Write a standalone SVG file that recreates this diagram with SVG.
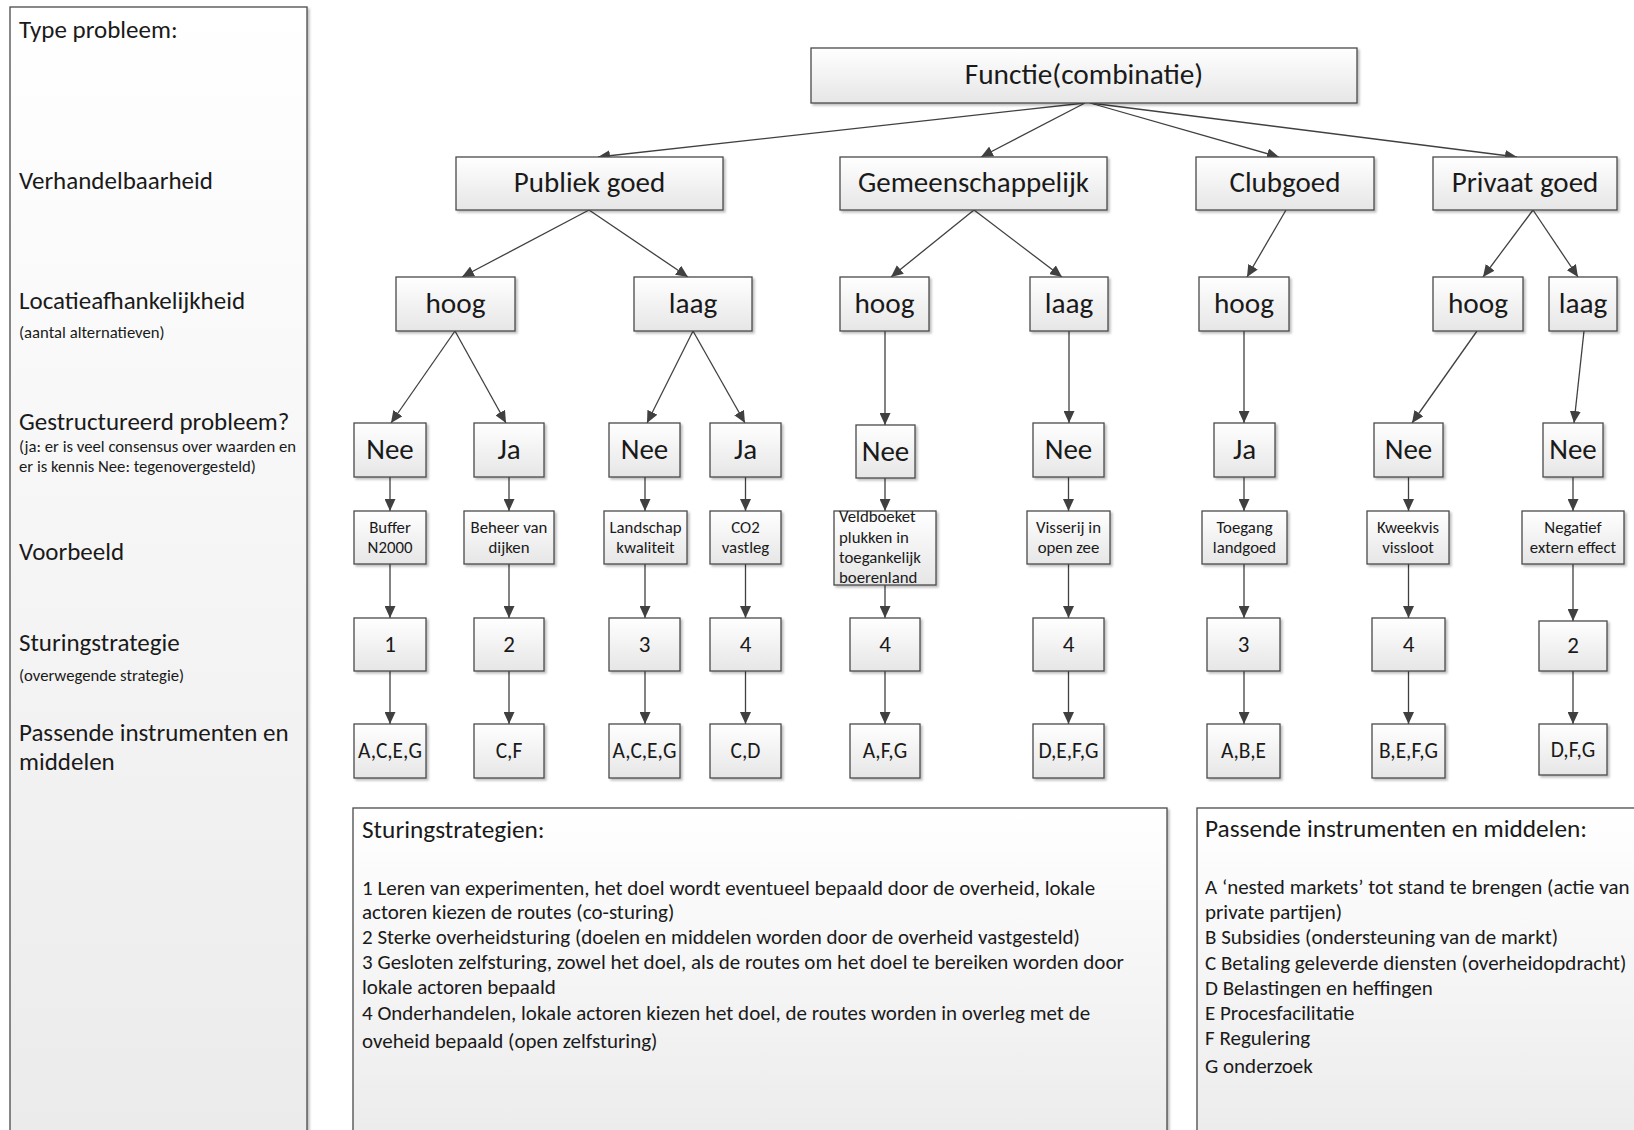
<svg xmlns="http://www.w3.org/2000/svg" width="1634" height="1130" viewBox="0 0 1634 1130">
<defs>
<linearGradient id="g" x1="0" y1="0" x2="0" y2="1"><stop offset="0" stop-color="#ffffff"/><stop offset="1" stop-color="#e6e6e6"/></linearGradient>
<linearGradient id="gp" x1="0" y1="0" x2="0" y2="1"><stop offset="0" stop-color="#ffffff"/><stop offset="1" stop-color="#ebebeb"/></linearGradient>
<filter id="sh" x="-10%" y="-10%" width="130%" height="130%"><feDropShadow dx="2" dy="2" stdDeviation="1.2" flood-color="#000" flood-opacity="0.25"/></filter>
<marker id="ah" markerWidth="12" markerHeight="11" refX="12" refY="5.5" orient="auto" markerUnits="userSpaceOnUse"><path d="M0,0 L12,5.5 L0,11 z" fill="#404040"/></marker>
<style>
.box{fill:url(#g);stroke:#4a4a4a;stroke-width:1.3;filter:url(#sh)}
.pan{fill:url(#gp);stroke:#4a4a4a;stroke-width:1.3;filter:url(#sh)}
text{font-family:Carlito,Calibri,Lato,sans-serif;fill:#1a1a1a}
.c{text-anchor:middle}
.f27{font-size:29.3px}
.f26{font-size:29px}
.f21{font-size:23px}
.f19{font-size:21.4px}
.f15{font-size:16.8px}
.lb{font-size:25px}
.ls{font-size:16.7px}
.bt{font-size:25.3px}
.bb{font-size:21px}
.con line,.con path{stroke:#404040;stroke-width:1.3;fill:none;marker-end:url(#ah)}
</style>
</defs>
<rect width="1634" height="1130" fill="#ffffff"/>

<g id="left-panel">
<rect class="pan" x="10" y="7" width="297" height="1133"/>
<text class="lb" x="19" y="38">Type probleem:</text>
<text class="lb" x="19" y="189">Verhandelbaarheid</text>
<text class="lb" x="19" y="309">Locatieafhankelijkheid</text>
<text class="ls" x="19" y="338">(aantal alternatieven)</text>
<text class="lb" x="19" y="430">Gestructureerd probleem?</text>
<text class="ls" x="19" y="452">(ja: er is veel consensus over waarden en</text>
<text class="ls" x="19" y="472">er is kennis Nee: tegenovergesteld)</text>
<text class="lb" x="19" y="560">Voorbeeld</text>
<text class="lb" x="19" y="651">Sturingstrategie</text>
<text class="ls" x="19" y="681">(overwegende strategie)</text>
<text class="lb" x="19" y="741">Passende instrumenten en</text>
<text class="lb" x="19" y="770">middelen</text>
</g>

<g class="con" id="connectors">
<line x1="1085" y1="103" x2="598" y2="157"/>
<line x1="1085" y1="103" x2="981" y2="157"/>
<line x1="1090" y1="103" x2="1279" y2="157"/>
<line x1="1090" y1="103" x2="1517" y2="157"/>
<line x1="589" y1="210" x2="462" y2="277"/>
<line x1="589" y1="210" x2="688" y2="277"/>
<line x1="974" y1="210" x2="891" y2="277"/>
<line x1="974" y1="210" x2="1062" y2="277"/>
<line x1="1286" y1="210" x2="1247" y2="277"/>
<line x1="1533" y1="210" x2="1483" y2="277"/>
<line x1="1533" y1="210" x2="1578" y2="277"/>
<line x1="455" y1="331" x2="391" y2="423"/>
<line x1="455" y1="331" x2="506" y2="423"/>
<line x1="693" y1="331" x2="647" y2="423"/>
<line x1="693" y1="331" x2="745" y2="423"/>
<line x1="885" y1="331" x2="885" y2="425"/>
<line x1="1069" y1="331" x2="1069" y2="423"/>
<line x1="1244" y1="331" x2="1244" y2="423"/>
<line x1="1477" y1="331" x2="1412" y2="423"/>
<line x1="1584" y1="331" x2="1574" y2="423"/>
<line x1="390" y1="477" x2="390" y2="511"/>
<line x1="509" y1="477" x2="509" y2="511"/>
<line x1="645" y1="477" x2="645" y2="511"/>
<line x1="745.5" y1="477" x2="745.5" y2="511"/>
<line x1="885" y1="478" x2="885" y2="511"/>
<line x1="1068.5" y1="477" x2="1068.5" y2="511"/>
<line x1="1244" y1="477" x2="1244" y2="511"/>
<line x1="1408.5" y1="477" x2="1408.5" y2="511"/>
<line x1="1573" y1="477" x2="1573" y2="511"/>
<line x1="390" y1="564" x2="390" y2="618"/>
<line x1="509" y1="564" x2="509" y2="618"/>
<line x1="645" y1="564" x2="645" y2="618"/>
<line x1="745.5" y1="564" x2="745.5" y2="618"/>
<line x1="885" y1="585" x2="885" y2="618"/>
<line x1="1068.5" y1="564" x2="1068.5" y2="618"/>
<line x1="1244" y1="564" x2="1244" y2="618"/>
<line x1="1408.5" y1="564" x2="1408.5" y2="618"/>
<line x1="1573" y1="564" x2="1573" y2="621"/>
<line x1="390" y1="671" x2="390" y2="724"/>
<line x1="509" y1="671" x2="509" y2="724"/>
<line x1="645" y1="671" x2="645" y2="724"/>
<line x1="745.5" y1="671" x2="745.5" y2="724"/>
<line x1="885" y1="671" x2="885" y2="724"/>
<line x1="1068.5" y1="671" x2="1068.5" y2="724"/>
<line x1="1244" y1="671" x2="1244" y2="724"/>
<line x1="1408.5" y1="671" x2="1408.5" y2="724"/>
<line x1="1573" y1="671" x2="1573" y2="724"/>
</g>

<g id="n-functie"><rect class="box" x="811" y="48" width="546" height="55"/><text class="c f27" x="1084" y="84">Functie(combinatie)</text></g>

<g id="n-publiek"><rect class="box" x="456" y="157" width="267" height="53"/><text class="c f26" x="589.5" y="192">Publiek goed</text></g>
<g id="n-gemeensch"><rect class="box" x="840" y="157" width="267" height="53"/><text class="c f26" x="973.5" y="192">Gemeenschappelijk</text></g>
<g id="n-club"><rect class="box" x="1196" y="157" width="178" height="53"/><text class="c f26" x="1285" y="192">Clubgoed</text></g>
<g id="n-privaat"><rect class="box" x="1433" y="157" width="184" height="53"/><text class="c f26" x="1525" y="192">Privaat goed</text></g>

<g id="n-hoog1"><rect class="box" x="396" y="277" width="119" height="54"/><text class="c f27" x="455.5" y="313">hoog</text></g>
<g id="n-laag1"><rect class="box" x="634" y="277" width="118" height="54"/><text class="c f27" x="693" y="313">laag</text></g>
<g id="n-hoog2"><rect class="box" x="840" y="277" width="89" height="54"/><text class="c f27" x="884.5" y="313">hoog</text></g>
<g id="n-laag2"><rect class="box" x="1030" y="277" width="78" height="54"/><text class="c f27" x="1069" y="313">laag</text></g>
<g id="n-hoog3"><rect class="box" x="1199" y="277" width="90" height="54"/><text class="c f27" x="1244" y="313">hoog</text></g>
<g id="n-hoog4"><rect class="box" x="1433" y="277" width="90" height="54"/><text class="c f27" x="1478" y="313">hoog</text></g>
<g id="n-laag4"><rect class="box" x="1549" y="277" width="68" height="54"/><text class="c f27" x="1583" y="313">laag</text></g>

<g id="n-nee1"><rect class="box" x="354" y="423" width="72" height="54"/><text class="c f26" x="390" y="459">Nee</text></g>
<g id="n-ja1"><rect class="box" x="474" y="423" width="70" height="54"/><text class="c f26" x="509" y="459">Ja</text></g>
<g id="n-nee2"><rect class="box" x="609" y="423" width="71" height="54"/><text class="c f26" x="644.5" y="459">Nee</text></g>
<g id="n-ja2"><rect class="box" x="710" y="423" width="71" height="54"/><text class="c f26" x="745.5" y="459">Ja</text></g>
<g id="n-nee3"><rect class="box" x="856" y="425" width="59" height="53"/><text class="c f26" x="885.5" y="461">Nee</text></g>
<g id="n-nee4"><rect class="box" x="1033" y="423" width="71" height="54"/><text class="c f26" x="1068.5" y="459">Nee</text></g>
<g id="n-ja3"><rect class="box" x="1214" y="423" width="61" height="54"/><text class="c f26" x="1244.5" y="459">Ja</text></g>
<g id="n-nee5"><rect class="box" x="1374" y="423" width="69" height="54"/><text class="c f26" x="1408.5" y="459">Nee</text></g>
<g id="n-nee6"><rect class="box" x="1543" y="423" width="60" height="54"/><text class="c f26" x="1573" y="459">Nee</text></g>

<g id="n-ex1"><rect class="box" x="354" y="511" width="72" height="53"/><text class="c f15" x="390" y="533">Buffer</text><text class="c f15" x="390" y="553">N2000</text></g>
<g id="n-ex2"><rect class="box" x="464" y="511" width="90" height="53"/><text class="c f15" x="509" y="533">Beheer van</text><text class="c f15" x="509" y="553">dijken</text></g>
<g id="n-ex3"><rect class="box" x="604" y="511" width="83" height="53"/><text class="c f15" x="645.5" y="533">Landschap</text><text class="c f15" x="645.5" y="553">kwaliteit</text></g>
<g id="n-ex4"><rect class="box" x="710" y="511" width="71" height="53"/><text class="c f15" x="745.5" y="533">CO2</text><text class="c f15" x="745.5" y="553">vastleg</text></g>
<g id="n-ex5"><rect class="box" x="834" y="511" width="102" height="74"/><text class="f15" x="839" y="522">Veldboeket</text><text class="f15" x="839" y="542.5">plukken in</text><text class="f15" x="839" y="562.5">toegankelijk</text><text class="f15" x="839" y="582.5">boerenland</text></g>
<g id="n-ex6"><rect class="box" x="1027" y="511" width="83" height="53"/><text class="c f15" x="1068.5" y="533">Visserij in</text><text class="c f15" x="1068.5" y="553">open zee</text></g>
<g id="n-ex7"><rect class="box" x="1202" y="511" width="85" height="53"/><text class="c f15" x="1244.5" y="533">Toegang</text><text class="c f15" x="1244.5" y="553">landgoed</text></g>
<g id="n-ex8"><rect class="box" x="1367" y="511" width="82" height="53"/><text class="c f15" x="1408" y="533">Kweekvis</text><text class="c f15" x="1408" y="553">vissloot</text></g>
<g id="n-ex9"><rect class="box" x="1522" y="511" width="102" height="53"/><text class="c f15" x="1573" y="533">Negatief</text><text class="c f15" x="1573" y="553">extern effect</text></g>

<g id="n-s1"><rect class="box" x="354" y="618" width="72" height="53"/><text class="c f21" x="390" y="652">1</text></g>
<g id="n-s2"><rect class="box" x="474" y="618" width="70" height="53"/><text class="c f21" x="509" y="652">2</text></g>
<g id="n-s3"><rect class="box" x="609" y="618" width="71" height="53"/><text class="c f21" x="644.5" y="652">3</text></g>
<g id="n-s4"><rect class="box" x="710" y="618" width="71" height="53"/><text class="c f21" x="745.5" y="652">4</text></g>
<g id="n-s5"><rect class="box" x="850" y="618" width="70" height="53"/><text class="c f21" x="885" y="652">4</text></g>
<g id="n-s6"><rect class="box" x="1033" y="618" width="71" height="53"/><text class="c f21" x="1068.5" y="652">4</text></g>
<g id="n-s7"><rect class="box" x="1207" y="618" width="73" height="53"/><text class="c f21" x="1243.5" y="652">3</text></g>
<g id="n-s8"><rect class="box" x="1372" y="618" width="73" height="53"/><text class="c f21" x="1408.5" y="652">4</text></g>
<g id="n-s9"><rect class="box" x="1539" y="621" width="68" height="50"/><text class="c f21" x="1573" y="653">2</text></g>

<g id="n-i1"><rect class="box" x="354" y="724" width="72" height="54"/><text class="c f19" x="390" y="758">A,C,E,G</text></g>
<g id="n-i2"><rect class="box" x="474" y="724" width="70" height="54"/><text class="c f19" x="509" y="758">C,F</text></g>
<g id="n-i3"><rect class="box" x="609" y="724" width="71" height="54"/><text class="c f19" x="644.5" y="758">A,C,E,G</text></g>
<g id="n-i4"><rect class="box" x="710" y="724" width="71" height="54"/><text class="c f19" x="745.5" y="758">C,D</text></g>
<g id="n-i5"><rect class="box" x="850" y="724" width="70" height="54"/><text class="c f19" x="885" y="758">A,F,G</text></g>
<g id="n-i6"><rect class="box" x="1033" y="724" width="71" height="54"/><text class="c f19" x="1068.5" y="758">D,E,F,G</text></g>
<g id="n-i7"><rect class="box" x="1207" y="724" width="73" height="54"/><text class="c f19" x="1243.5" y="758">A,B,E</text></g>
<g id="n-i8"><rect class="box" x="1372" y="724" width="73" height="54"/><text class="c f19" x="1408.5" y="758">B,E,F,G</text></g>
<g id="n-i9"><rect class="box" x="1539" y="724" width="68" height="51"/><text class="c f19" x="1573" y="757">D,F,G</text></g>

<g id="legend-strategies">
<rect class="pan" x="353" y="808" width="814" height="340"/>
<text class="bt" x="362" y="838">Sturingstrategien:</text>
<text class="bb" x="362" y="895">1 Leren van experimenten, het doel wordt eventueel bepaald door de overheid, lokale</text>
<text class="bb" x="362" y="919">actoren kiezen de routes (co-sturing)</text>
<text class="bb" x="362" y="944">2 Sterke overheidsturing (doelen en middelen worden door de overheid vastgesteld)</text>
<text class="bb" x="362" y="969">3 Gesloten zelfsturing, zowel het doel, als de routes om het doel te bereiken worden door</text>
<text class="bb" x="362" y="994">lokale actoren bepaald</text>
<text class="bb" x="362" y="1020">4 Onderhandelen, lokale actoren kiezen het doel, de routes worden in overleg met de</text>
<text class="bb" x="362" y="1048">oveheid bepaald (open zelfsturing)</text>
</g>

<g id="legend-instruments">
<rect class="pan" x="1197" y="808" width="460" height="340"/>
<text class="bt" x="1205" y="837">Passende instrumenten en middelen:</text>
<text class="bb" x="1205" y="894">A ‘nested markets’ tot stand te brengen (actie van</text>
<text class="bb" x="1205" y="919">private partijen)</text>
<text class="bb" x="1205" y="944">B Subsidies (ondersteuning van de markt)</text>
<text class="bb" x="1205" y="970">C Betaling geleverde diensten (overheidopdracht)</text>
<text class="bb" x="1205" y="995">D Belastingen en heffingen</text>
<text class="bb" x="1205" y="1020">E Procesfacilitatie</text>
<text class="bb" x="1205" y="1045">F Regulering</text>
<text class="bb" x="1205" y="1073">G onderzoek</text>
</g>
</svg>
